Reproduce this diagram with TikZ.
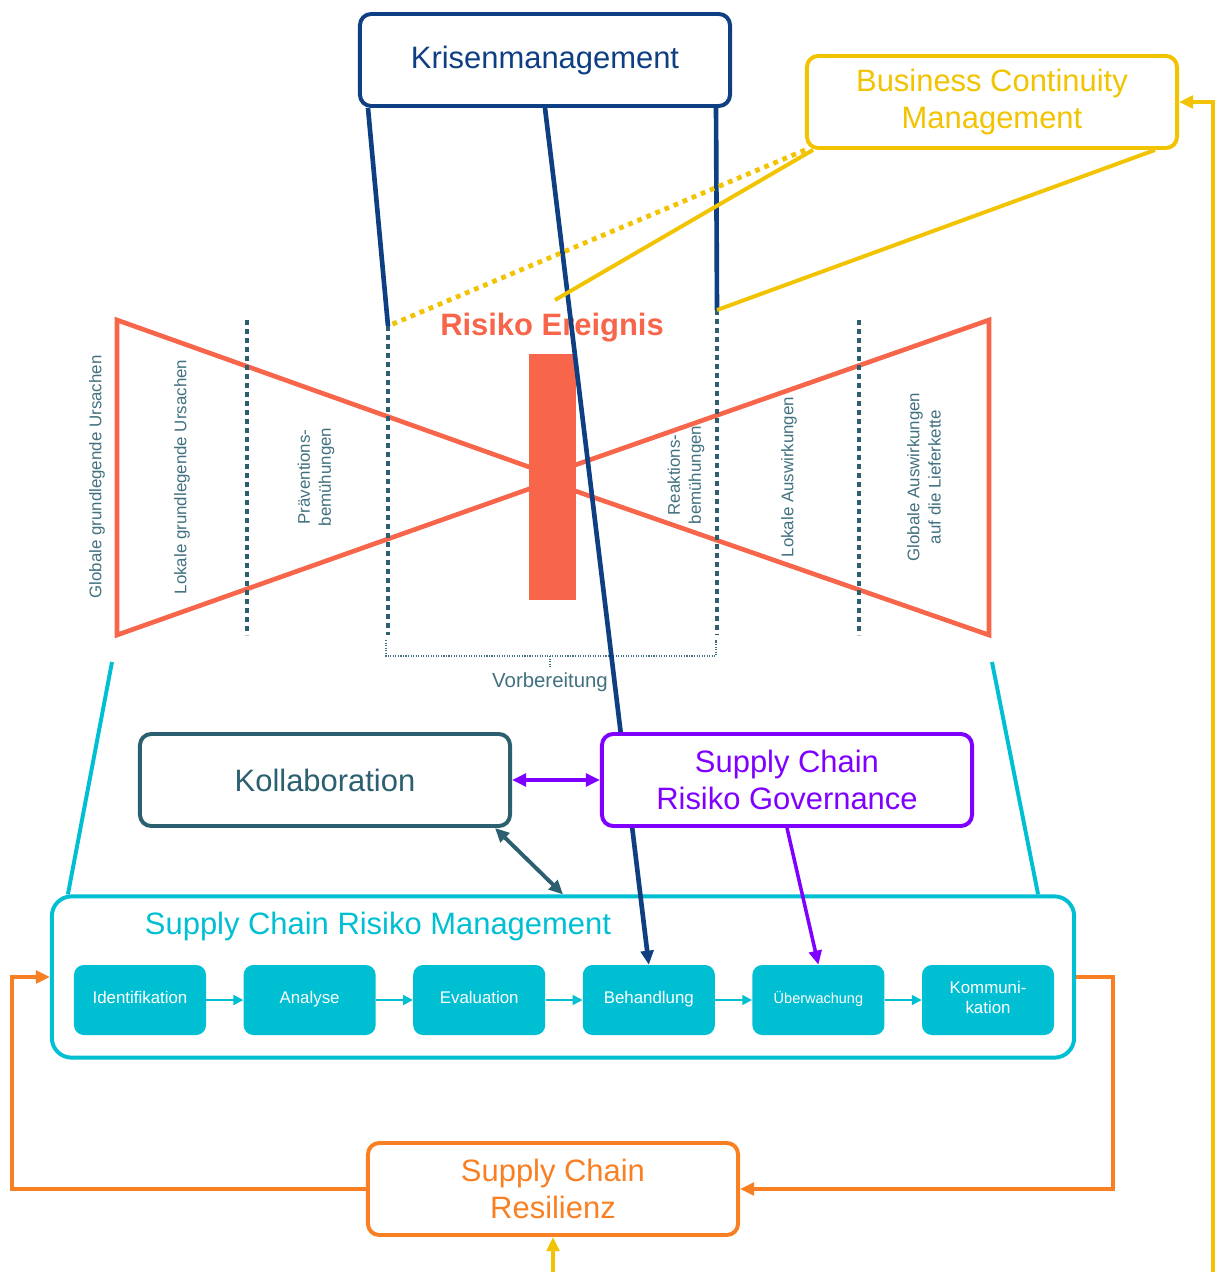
\documentclass[tikz,border=0pt]{standalone}
\usepackage{fontspec}
\setmainfont{Liberation Sans}
\usetikzlibrary{positioning,arrows.meta,calc}
\definecolor{navy}{HTML}{0E3F82}
\definecolor{gold}{HTML}{F2C300}
\definecolor{tomato}{HTML}{F7654A}
\definecolor{slate}{HTML}{2C5F70}
\definecolor{slatetxt}{HTML}{41707F}
\definecolor{purp}{HTML}{8000FF}
\definecolor{cyanb}{HTML}{00BFD3}
\definecolor{orng}{HTML}{F98022}

\begin{document}
\begin{tikzpicture}[x=0.025cm, y=-0.025cm, node distance=0.925cm, every node/.style={font=\fontsize{22}{26.5}\selectfont}, >={Triangle[length=10pt,width=9pt]}]
\tikzstyle{box}=[draw, line width=2.8pt, rounded corners=8pt, fill=white, align=center, minimum width=9.25cm, minimum height=2.3cm]
\tikzstyle{stepbox}=[fill=cyanb, rounded corners=7pt, text=white, align=center, minimum width=3.3cm, minimum height=1.75cm, font=\fontsize{12}{14}\selectfont, execute at begin node=\strut]
\tikzstyle{vlab}=[rotate=90, text=slatetxt, align=center, font=\fontsize{12}{15}\selectfont]
\tikzstyle{divider}=[slate, line width=3.4pt, dash pattern=on 3.4pt off 3pt]
\tikzstyle{brk}=[slatetxt, line width=0.8pt, densely dotted]
\path[use as bounding box, clip] (0,0) rectangle (1216,1272);

\node[draw=cyanb, line width=2.8pt, rounded corners=14pt, minimum width=25.55cm, minimum height=4.03cm] (scrm) at (563,977) {};
\node[text=cyanb] (scrmtitle) at (378,926) {Supply Chain Risiko Management};
\node[stepbox] (ident) at (140,1000) {Identifikation};
\node[stepbox, right=of ident] (analyse) {Analyse};
\node[stepbox, right=of analyse] (evalu) {Evaluation};
\node[stepbox, right=of evalu] (behand) {Behandlung};
\node[stepbox, right=of behand, font=\fontsize{10.3}{12}\selectfont] (ueber) {Überwachung};
\node[stepbox, right=of ueber] (komm) {Kommuni-\\kation};
\foreach \a/\b in {ident/analyse, analyse/evalu, evalu/behand, behand/ueber, ueber/komm}
  \draw[cyanb, line width=1.4pt, -{Triangle[length=7pt,width=7pt]}] (\a) -- (\b);

\coordinate (lt) at (117,320);
\coordinate (lb) at (117,635);
\coordinate (lapex) at (560,478);
\coordinate (rt) at (989,320);
\coordinate (rb) at (989,635);
\coordinate (rapex) at (538,478);
\draw[tomato, line width=3.3pt] (lt) -- (lapex) -- (lb) -- cycle;
\draw[tomato, line width=3.3pt] (rt) -- (rapex) -- (rb) -- cycle;
\node[fill=tomato, minimum width=1.175cm, minimum height=6.15cm, inner sep=0pt] (bar) at (552.5,477) {};
\coordinate (atop) at (247,320);
\coordinate (btop) at (388,326);
\coordinate (ctop) at (717,310);
\coordinate (dtop) at (859,320);
\foreach \p in {atop, btop, ctop, dtop}
  \draw[divider] (\p) -- (\p |- 0,635);
\node[vlab] (gu) at (97,477) {Globale grundlegende Ursachen};
\node[vlab] (lu) at (182,477) {Lokale grundlegende Ursachen};
\node[vlab] (prae) at (316,477) {Präventions-\\bemühungen};
\node[vlab] (reak) at (686,475) {Reaktions-\\bemühungen};
\node[vlab] (la) at (789,477) {Lokale Auswirkungen};
\node[vlab] (ga) at (924,477) {Globale Auswirkungen\\auf die Lieferkette};
\node[text=tomato, font=\bfseries\fontsize{22}{26}\selectfont] (ereignis) at (552,328) {Risiko Ereignis};
\coordinate (vl) at (386,656);
\coordinate (vm) at (550,656);
\coordinate (vr) at (716,656);
\draw[brk] (386,640) -- (vl) -- (vr) -- (716,640);
\draw[brk] (vm) -- ++(0,12);
\node[text=slatetxt, font=\fontsize{14.5}{17}\selectfont] (vorb) at (550,682) {Vorbereitung};

\coordinate (tl) at (112,662);
\coordinate (tr) at (992,662);
\draw[cyanb, line width=2.8pt] (tl) -- ($(scrm.north west)+(18,0)$);
\draw[cyanb, line width=2.8pt] (tr) -- ($(scrm.north east)+(-38,0)$);

\node[box, draw=navy, text=navy] (krise) at (545,60) {Krisenmanagement};
\node[box, draw=gold, text=gold] (bcm) at (992,102) {Business Continuity\\Management};
\draw[navy, line width=3.3pt] ($(krise.south west)+(10,0)$) -- (btop);
\draw[navy, line width=3.3pt] ($(krise.south east)+(-16,0)$) -- (ctop);
\draw[navy, line width=3.3pt, ->] (krise.south) -- (behand.north);
\coordinate (ymid) at (555,300);
\draw[gold, line width=3.4pt, dash pattern=on 3.4pt off 3.6pt] (bcm.south west) -- (btop);
\draw[gold, line width=2.8pt] ($(bcm.south west)+(8,0)$) -- (ymid);
\draw[gold, line width=2.8pt] ($(bcm.south east)+(-24,0)$) -- (ctop);

\node[box, draw=slate, text=slate] (kollab) at (325,780) {Kollaboration};
\node[box, draw=purp, text=purp] (scrg) at (787,780) {Supply Chain\\Risiko Governance};
\node[box, draw=orng, text=orng] (resil) at (553,1189) {Supply Chain\\Resilienz};

\draw[purp, line width=2.2pt, <->] (kollab.east) -- (scrg.west);
\draw[slate, line width=2.8pt, <->] ($(kollab.south east)+(-17,0)$) -- (scrm.north);
\draw[purp, line width=2.5pt, ->] (scrg.south) -- (ueber.north);
\coordinate (oleft) at (12,1189);
\coordinate (oright) at (1113,1189);
\draw[orng, line width=2.5pt, ->] (resil.west) -- (oleft) |- (scrm.west);
\draw[orng, line width=2.5pt, ->] (scrm.east) -| (oright) -- (resil.east);
\coordinate (ycorner) at (1213,1300);
\draw[gold, line width=2.2pt, <->] (resil.south) -- (resil.south |- ycorner) -- (ycorner) |- (bcm.east);
\end{tikzpicture}
\end{document}
